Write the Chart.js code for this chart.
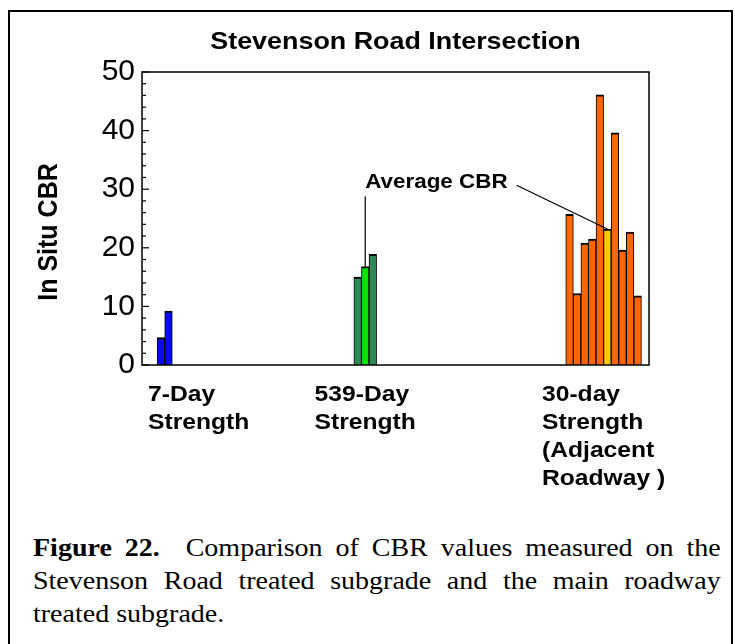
<!DOCTYPE html>
<html>
<head>
<meta charset="utf-8">
<script src="https://cdn.jsdelivr.net/npm/chart.js@4.4.1/dist/chart.umd.min.js"></script>
<style>
  body { margin: 0; background: #fff; width: 735px; height: 644px; overflow: hidden; position: relative; }
  .frame { position: absolute; left: 8px; top: 10px; width: 725px; height: 700px; border: 2px solid #000; box-sizing: border-box; }
  .chart-box { position: absolute; left: 0; top: 0; width: 735px; height: 500px; }
  .caption { position: absolute; left: 33px; top: 531px; width: 614px; transform: scaleX(1.12); transform-origin: 0 0; font-family: "Liberation Serif", "Times New Roman", serif; font-size: 25px; line-height: 33px; color: #000; }
  .caption div { text-align: justify; text-align-last: justify; }
  .caption div.last { text-align-last: left; }
</style>
</head>
<body>
<div class="frame"></div>
<div class="chart-box"><canvas id="cbr-chart"></canvas></div>
<div class="caption">
  <div><b>Figure 22.</b>&nbsp; Comparison of CBR values measured on the</div>
  <div>Stevenson Road treated subgrade and the main roadway</div>
  <div class="last">treated subgrade.</div>
</div>
<script>
// values
const groupLabels = [['7-Day', 'Strength'], ['539-Day', 'Strength'], ['30-day', 'Strength', '(Adjacent', 'Roadway )']];
const cbr7Day = [4.7, 9.2];
const cbr539Day = [15.0, 16.8, 18.9];
const cbr30Day = [25.7, 12.2, 20.8, 21.5, 46.1, 23.2, 39.6, 19.6, 22.7, 11.8];
const averageIndex = [null, 1, 5];   // which bar of each group is the average CBR
const chartTitle = 'Stevenson Road Intersection';
const yTitle = 'In Situ CBR';
const noteText = 'Average CBR';

// layout: empty slots before each group and after the last one
const gapSlots = [2, 24, 25];
const trailSlots = 1;
const groupColors = ['#0a0af5', '#2e8b57', '#ff6600'];
const averageColors = [null, '#00e600', '#ffcc00'];
const STRETCH = 1.12;

const groups = [cbr7Day, cbr539Day, cbr30Day];
let slotLabels = [], slotValues = [], slotColors = [], groupSlots = [];
groups.forEach((g, gi) => {
	for (let k = 0; k < gapSlots[gi]; k++) {
		slotLabels.push('s' + slotLabels.length);
		slotValues.push(null);
		slotColors.push('#fff');
	}
	const start = slotValues.length;
	g.forEach((v, i) => {
		slotLabels.push('s' + slotLabels.length);
		slotValues.push(v);
		slotColors.push(i === averageIndex[gi] ? averageColors[gi] : groupColors[gi]);
	});
	groupSlots.push([start, slotValues.length - 1]);
});
for (let k = 0; k < trailSlots; k++) {
	slotLabels.push('s' + slotLabels.length);
	slotValues.push(null);
	slotColors.push('#fff');
}

//draw text a bit wider, like the scanned figure
function wideText(ctx, str, x, y, align) {
	ctx.save();
	ctx.translate(x, y);
	ctx.scale(STRETCH, 1);
	ctx.textAlign = align || 'left';
	ctx.fillText(str, 0, 0);
	ctx.restore();
}

function line(ctx, x1, y1, x2, y2) {
	ctx.beginPath();
	ctx.moveTo(x1, y1);
	ctx.lineTo(x2, y2);
	ctx.stroke();
}

const decor = {
	id: 'decor',
	afterDraw(chart) {
		const ctx = chart.ctx;
		const a = chart.chartArea;
		const y = chart.scales.y;
		const bars = chart.getDatasetMeta(0).data;
		ctx.save();
		ctx.strokeStyle = '#000';
		ctx.fillStyle = '#000';

		// plot frame
		ctx.lineWidth = 1.5;
		ctx.strokeRect(a.left, a.top, a.right - a.left, a.bottom - a.top);

		// inward tick marks
		ctx.lineWidth = 1.2;
		y.ticks.forEach((t) => {
			const py = y.getPixelForValue(t.value);
			const len = t.value % 10 === 0 ? 7 : 4;
			line(ctx, a.left, py, a.left + len, py);
		});

		ctx.textBaseline = 'middle';

		// title over the plot
		ctx.font = 'bold 24px "Liberation Sans", Arial, sans-serif';
		wideText(ctx, chartTitle, (a.left + a.right) / 2, 42, 'center');

		// y axis title
		ctx.font = 'bold 25px "Liberation Sans", Arial, sans-serif';
		ctx.save();
		ctx.translate(49, 232);
		ctx.rotate(-Math.PI / 2);
		ctx.scale(1, STRETCH);
		ctx.textAlign = 'center';
		ctx.fillText(yTitle, 0, 0);
		ctx.restore();

		// group labels under the bars
		ctx.font = 'bold 22px "Liberation Sans", Arial, sans-serif';
		groupSlots.forEach(([s, e], gi) => {
			const first = bars[s], last = bars[e];
			const center = (first.x - first.width / 2 + last.x + last.width / 2) / 2;
			const widths = groupLabels[gi].map(t => ctx.measureText(t).width * STRETCH);
			const maxW = Math.max(...widths);
			const left = Math.max(center - maxW / 2, a.left + 6);
			groupLabels[gi].forEach((t, li) => {
				wideText(ctx, t, left, a.bottom + 30 + li * 28, 'left');
			});
		});

		// Average CBR note with leader lines
		const greenAvg = bars[groupSlots[1][0] + averageIndex[1]];
		const orangeAvg = bars[groupSlots[2][0] + averageIndex[2]];
		ctx.font = 'bold 20px "Liberation Sans", Arial, sans-serif';
		const noteY = y.getPixelForValue(31.2);
		const noteX = greenAvg.x;
		wideText(ctx, noteText, noteX, noteY, 'left');
		const noteW = ctx.measureText(noteText).width * STRETCH;
		ctx.lineWidth = 1.2;
		line(ctx, greenAvg.x, noteY + 14, greenAvg.x, greenAvg.y);
		line(ctx, noteX + noteW + 9, noteY + 3, orangeAvg.x, orangeAvg.y);
		ctx.restore();
	}
};

const ctx = document.getElementById('cbr-chart').getContext('2d');
const cbrChart = new Chart(ctx, {
	type: 'bar',
	data: {
		labels: slotLabels,
		datasets: [{
			data: slotValues,
			backgroundColor: slotColors,
			borderColor: '#000',
			borderWidth: { top: 2, left: 1, right: 1, bottom: 0 },
			barPercentage: 1,
			categoryPercentage: 1
		}]
	},
	options: {
		responsive: true,
		maintainAspectRatio: false,
		animation: false,
		layout: { padding: { top: 72, right: 86, bottom: 135, left: 0 } },
		plugins: {
			legend: { display: false },
			tooltip: { enabled: false }
		},
		scales: {
			x: { display: false },
			y: {
				min: 0,
				max: 50,
				afterFit(scale) { scale.width = 142; },
				grid: { display: false, drawTicks: false },
				border: { display: false },
				ticks: {
					stepSize: 2,
					autoSkip: false,
					padding: 7,
					color: '#000',
					font: { family: '"Liberation Sans", Arial, sans-serif', size: 30 },
					callback: (v) => (v % 10 === 0 ? v : '')
				}
			}
		}
	},
	plugins: [decor]
});
</script>
</body>
</html>
